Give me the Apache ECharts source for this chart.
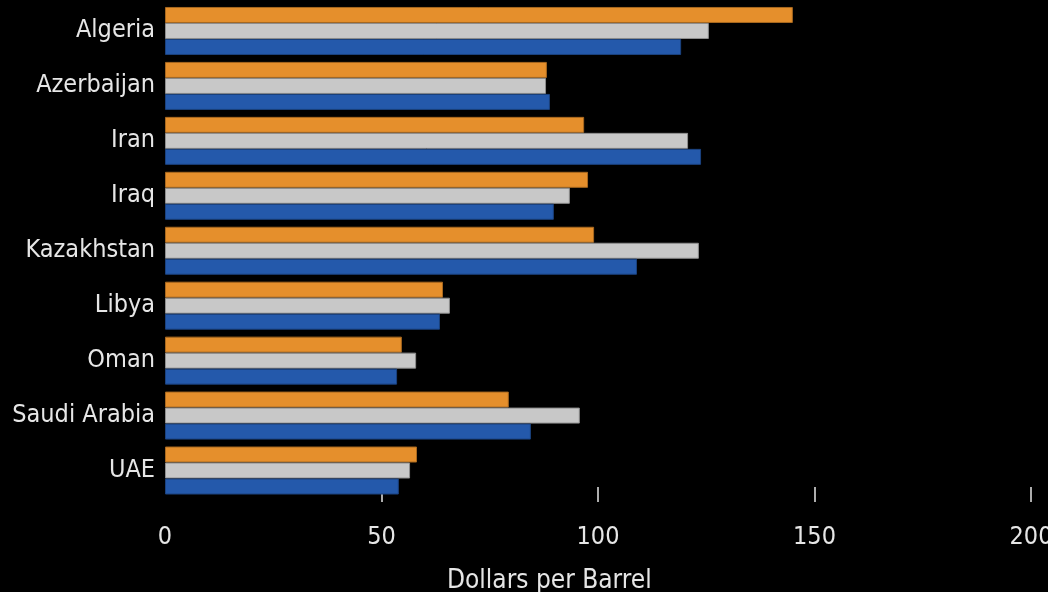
<!DOCTYPE html>
<html>
<head>
<meta charset="utf-8">
<script src="https://cdn.jsdelivr.net/npm/echarts@6/dist/echarts.min.js"></script>
<style>
html,body{margin:0;padding:0;background:#000;}
#chart{width:1048px;height:592px;}
</style>
</head>
<body>
<div id="chart"></div>
<script>
var categories = ["Algeria", "Azerbaijan", "Iran", "Iraq", "Kazakhstan", "Libya", "Oman", "Saudi Arabia", "UAE"];
var seriesOrange = [145, 88.2, 96.8, 97.7, 99.1, 64.2, 54.7, 79.4, 58.2];
var seriesGray = [125.6, 88, 120.8, 93.5, 123.3, 65.8, 58, 95.8, 56.6];
var seriesBlue = [119.2, 88.9, 123.8, 89.8, 109, 63.5, 53.6, 84.5, 54];
var xTicks = [0, 50, 100, 150, 200];
var axisTitle = "Dollars per Barrel";

var FONT = "DejaVu Sans Condensed";
var chart = echarts.init(document.getElementById('chart'));
function bar(name, data, color, border) {
  return {
    name: name, type: 'bar', data: data, barWidth: 16, barGap: '0%',
    itemStyle: { color: color, borderColor: border, borderWidth: 1 },
    emphasis: { disabled: true }
  };
}
chart.setOption({
  backgroundColor: '#000000',
  animation: false,
  title: {
    text: axisTitle, left: 442, top: 563,
    textStyle: { color: '#e6e6e6', fontFamily: FONT, fontSize: 26, fontWeight: 'normal' }
  },
  grid: { left: 165, right: 17, top: 3.5, bottom: 94, outerBoundsMode: 'none', containLabel: false },
  xAxis: {
    type: 'value', min: 0, max: 200, interval: 50, offset: 4,
    axisLine: { show: false },
    axisTick: { show: true, inside: true, length: 15, lineStyle: { color: '#e6e6e6', width: 1.5 }, customValues: xTicks.slice(1) },
    splitLine: { show: false },
    axisLabel: { color: '#e6e6e6', fontFamily: FONT, fontSize: 25, margin: 23, customValues: xTicks }
  },
  yAxis: {
    type: 'category', data: categories, inverse: true,
    axisLine: { show: false }, axisTick: { show: false },
    axisLabel: { color: '#e6e6e6', fontFamily: FONT, fontSize: 25, margin: 10 }
  },
  series: [
    bar('Series 1', seriesOrange, '#e58f2c', '#a8681f'),
    bar('Series 2', seriesGray, '#c8c8c8', '#8e8e8e'),
    bar('Series 3', seriesBlue, '#2459ab', '#1b427f')
  ]
});
</script>
</body>
</html>
